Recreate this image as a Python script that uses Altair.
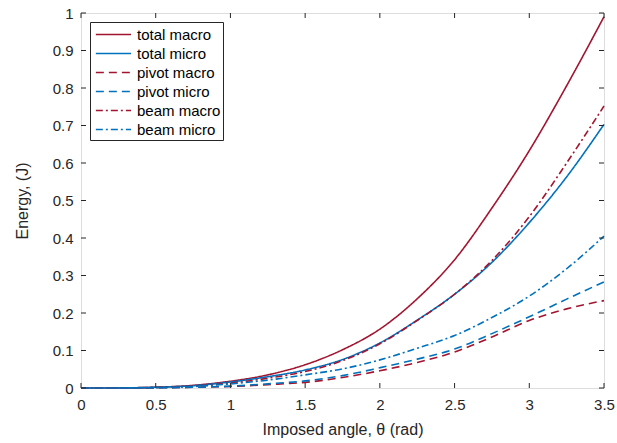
import altair as alt
import pandas as pd

theta = [0, 0.25, 0.5, 0.75, 1.0, 1.25, 1.5, 1.75, 2.0, 2.25, 2.5, 2.75, 3.0, 3.25, 3.5]
total_macro = [0, 0.0003, 0.002, 0.007, 0.018, 0.035, 0.062, 0.102, 0.157, 0.238, 0.342, 0.480, 0.633, 0.806, 0.990]
total_micro = [0, 0.0003, 0.002, 0.006, 0.016, 0.030, 0.048, 0.076, 0.120, 0.181, 0.250, 0.335, 0.441, 0.563, 0.703]
pivot_macro = [0, 0.0001, 0.0005, 0.002, 0.004, 0.009, 0.015, 0.028, 0.046, 0.068, 0.096, 0.136, 0.180, 0.211, 0.233]
pivot_micro = [0, 0.0001, 0.0005, 0.002, 0.005, 0.011, 0.019, 0.033, 0.054, 0.077, 0.104, 0.145, 0.190, 0.237, 0.283]
beam_macro = [0, 0.0002, 0.0015, 0.005, 0.013, 0.026, 0.044, 0.073, 0.118, 0.180, 0.250, 0.340, 0.457, 0.600, 0.752]
beam_micro = [0, 0.0002, 0.001, 0.004, 0.011, 0.021, 0.035, 0.051, 0.075, 0.106, 0.140, 0.188, 0.245, 0.318, 0.405]

series_names = ["total macro", "total micro", "pivot macro", "pivot micro", "beam macro", "beam micro"]
series_values = [total_macro, total_micro, pivot_macro, pivot_micro, beam_macro, beam_micro]
series_colors = ["#A2142F", "#0072BD", "#A2142F", "#0072BD", "#A2142F", "#0072BD"]
series_dashes = [[1, 0], [1, 0], [8, 5], [8, 5], [7, 3, 2, 3], [7, 3, 2, 3]]

x_ticks = [0, 0.5, 1, 1.5, 2, 2.5, 3, 3.5]
y_ticks = [0, 0.1, 0.2, 0.3, 0.4, 0.5, 0.6, 0.7, 0.8, 0.9, 1.0]

rows = []
for name, vals in zip(series_names, series_values):
    for t, v in zip(theta, vals):
        rows.append({"theta": t, "energy": v, "series": name})
df = pd.DataFrame(rows)

W, H = 523, 375
FONT = "Liberation Sans"
AX = "#262626"

xscale = alt.Scale(domain=[0, 3.5], nice=False, zero=False)
yscale = alt.Scale(domain=[0, 1], nice=False)

x_axis = alt.Axis(title="Imposed angle, θ (rad)", values=x_ticks, ticks=False, format="~g",
                  labelPadding=9, titlePadding=9, grid=False, domain=False,
                  labelFont=FONT, labelFontSize=15, labelColor=AX, labelOverlap=False,
                  titleFont=FONT, titleFontSize=16, titleFontWeight="normal", titleColor=AX,
                  labelFlush=False)
y_axis = alt.Axis(title="Energy, (J)", values=y_ticks, ticks=False, format="~g",
                  labelPadding=8, titlePadding=22, grid=False, domain=False,
                  labelFont=FONT, labelFontSize=15, labelColor=AX, labelOverlap=False,
                  titleFont=FONT, titleFontSize=16, titleFontWeight="normal", titleColor=AX,
                  labelFlush=False)

leg = dict(title=None, orient="none", legendX=9, legendY=9,
           symbolType="M-0.7,0H3.0", symbolSize=361, symbolStrokeWidth=1.6,
           rowPadding=0, labelFont=FONT, labelFontSize=15, labelColor="#000000",
           labelOffset=24, padding=2, strokeColor=AX, fillColor="white", labelLimit=200)

lines = alt.Chart(df).mark_line(strokeWidth=1.6, interpolate="monotone").encode(
    x=alt.X("theta:Q", scale=xscale, axis=x_axis),
    y=alt.Y("energy:Q", scale=yscale, axis=y_axis),
    color=alt.Color("series:N", scale=alt.Scale(domain=series_names, range=series_colors),
                    sort=series_names, legend=alt.Legend(**leg)),
    strokeDash=alt.StrokeDash("series:N", scale=alt.Scale(domain=series_names, range=series_dashes),
                              sort=series_names, legend=alt.Legend(**leg)),
)

xt = pd.DataFrame({"xt": x_ticks})
yt = pd.DataFrame({"yt": y_ticks})

tick_bottom = alt.Chart(xt).mark_rule(color=AX, strokeWidth=1).encode(
    x=alt.X("xt:Q", scale=xscale, axis=x_axis), y=alt.value(H), y2=alt.value(H - 5))
tick_top = alt.Chart(xt).mark_rule(color=AX, strokeWidth=1).encode(
    x=alt.X("xt:Q", scale=xscale, axis=x_axis), y=alt.value(0), y2=alt.value(5))
tick_left = alt.Chart(yt).mark_rule(color=AX, strokeWidth=1).encode(
    y=alt.Y("yt:Q", scale=yscale, axis=y_axis), x=alt.value(0), x2=alt.value(5))
tick_right = alt.Chart(yt).mark_rule(color=AX, strokeWidth=1).encode(
    y=alt.Y("yt:Q", scale=yscale, axis=y_axis), x=alt.value(W), x2=alt.value(W - 5))

chart = alt.layer(lines, tick_bottom, tick_top, tick_left, tick_right).properties(
    width=W, height=H,
    autosize=alt.AutoSizeParams(type="none"),
    padding={"left": 81, "top": 13, "right": 13, "bottom": 55},
).configure_view(
    stroke=AX, strokeWidth=1
).configure(background="white")

chart.save("out.html", embed_options={"renderer": "svg", "actions": False})
